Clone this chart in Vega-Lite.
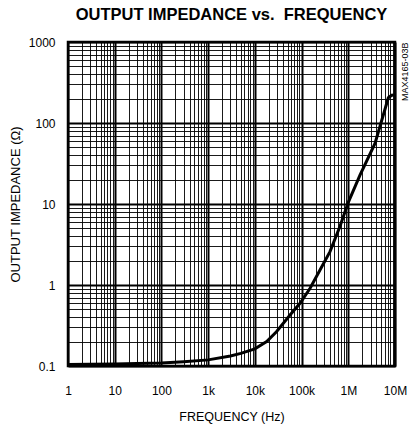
{
  "$schema": "https://vega.github.io/schema/vega-lite/v6.json",
  "autosize": "none",
  "width": 327,
  "height": 324,
  "padding": {"left": 68, "top": 42, "right": 14, "bottom": 61},
  "background": "white",
  "config": {
    "font": "Liberation Sans",
    "view": {"stroke": "black", "strokeWidth": 2.5},
    "axis": {"labelFont": "Liberation Sans", "titleFont": "Liberation Sans"}
  },
  "title": {
    "text": "OUTPUT IMPEDANCE vs.\u00a0 FREQUENCY",
    "font": "Liberation Sans",
    "fontSize": 16.5,
    "fontWeight": "bold",
    "color": "black",
    "anchor": "middle",
    "offset": 13
  },
  "data": {
    "values": [
      {"freq": 1, "z": 0.104},
      {"freq": 3, "z": 0.105},
      {"freq": 10, "z": 0.106},
      {"freq": 30, "z": 0.107},
      {"freq": 100, "z": 0.109},
      {"freq": 300, "z": 0.113},
      {"freq": 1000, "z": 0.119},
      {"freq": 3000, "z": 0.133},
      {"freq": 5000, "z": 0.143},
      {"freq": 10000, "z": 0.163},
      {"freq": 17900, "z": 0.2},
      {"freq": 29000, "z": 0.265},
      {"freq": 56600, "z": 0.426},
      {"freq": 92700, "z": 0.594},
      {"freq": 152000, "z": 0.91},
      {"freq": 248000, "z": 1.53},
      {"freq": 406000, "z": 2.58},
      {"freq": 665000, "z": 5.3},
      {"freq": 1000000, "z": 10.5},
      {"freq": 1780000, "z": 22.7},
      {"freq": 3730000, "z": 56},
      {"freq": 7200000, "z": 205},
      {"freq": 8500000, "z": 220},
      {"freq": 10000000, "z": 222}
    ]
  },
  "layer": [
    {
      "mark": {"type": "line", "color": "black", "strokeWidth": 3, "clip": true},
      "encoding": {
        "x": {
          "field": "freq", "type": "quantitative",
          "scale": {"type": "log", "domain": [1, 10000000], "nice": false},
          "axis": {
            "title": "FREQUENCY (Hz)",
            "titleFontSize": 12.5,
            "titleFontWeight": "normal",
            "titleColor": "black",
            "titlePadding": 14,
            "labelFontSize": 12,
            "labelColor": "black",
            "labelPadding": 19,
            "labelOverlap": false,
            "labelFlush": false,
            "ticks": false,
            "domain": false,
            "grid": true,
            "gridColor": "black",
            "gridOpacity": 1,
            "gridWidth": {"condition": {"test": "indexof([1,10,100,1000,10000,100000,1000000,10000000], datum.value) >= 0", "value": 2}, "value": 0.9},
            "values": [1,2,3,4,5,6,7,8,9,10,20,30,40,50,60,70,80,90,100,200,300,400,500,600,700,800,900,1000,2000,3000,4000,5000,6000,7000,8000,9000,10000,20000,30000,40000,50000,60000,70000,80000,90000,100000,200000,300000,400000,500000,600000,700000,800000,900000,1000000,2000000,3000000,4000000,5000000,6000000,7000000,8000000,9000000,10000000],
            "labelExpr": "datum.value==1?'1':datum.value==10?'10':datum.value==100?'100':datum.value==1000?'1k':datum.value==10000?'10k':datum.value==100000?'100k':datum.value==1000000?'1M':datum.value==10000000?'10M':''"
          }
        },
        "y": {
          "field": "z", "type": "quantitative",
          "scale": {"type": "log", "domain": [0.1, 1000], "nice": false},
          "axis": {
            "title": "OUTPUT IMPEDANCE (Ω)",
            "titleFontSize": 13,
            "titleFontWeight": "normal",
            "titleColor": "black",
            "titlePadding": 6,
            "labelFontSize": 12,
            "labelColor": "black",
            "labelPadding": 13,
            "labelOverlap": false,
            "labelFlush": false,
            "ticks": false,
            "domain": false,
            "grid": true,
            "gridColor": "black",
            "gridOpacity": 1,
            "gridWidth": {"condition": {"test": "indexof([0.1,1,10,100,1000], datum.value) >= 0", "value": 2}, "value": 0.9},
            "values": [0.1,0.2,0.3,0.4,0.5,0.6,0.7,0.8,0.9,1,2,3,4,5,6,7,8,9,10,20,30,40,50,60,70,80,90,100,200,300,400,500,600,700,800,900,1000],
            "labelExpr": "datum.value==0.1?'0.1':datum.value==1?'1':datum.value==10?'10':datum.value==100?'100':datum.value==1000?'1000':''"
          }
        }
      }
    },
    {
      "mark": {"type": "line", "opacity": 0},
      "encoding": {
        "x": {"field": "freq", "type": "quantitative", "scale": {"type": "log", "domain": [1, 10000000], "nice": false}},
        "y": {
          "field": "z", "type": "quantitative",
          "scale": {"type": "log", "domain": [0.1, 1000], "nice": false},
          "axis": {
            "orient": "right",
            "title": "MAX4165-03B",
            "titleFontSize": 9,
            "titleFontWeight": "normal",
            "titleColor": "black",
            "titleAngle": 270,
            "titleAnchor": "end",
            "titleAlign": "right",
            "titleBaseline": "middle",
            "titlePadding": 9,
            "labels": false,
            "ticks": false,
            "domain": false,
            "grid": false
          }
        }
      }
    }
  ],
  "resolve": {"axis": {"y": "independent"}}
}
